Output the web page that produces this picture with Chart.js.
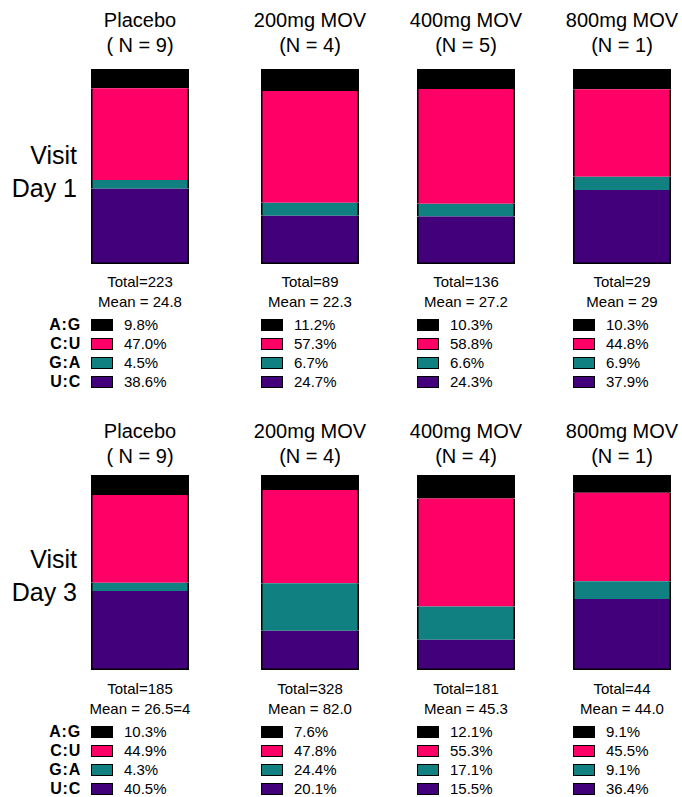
<!DOCTYPE html>
<html>
<head>
<meta charset="utf-8">
<script src="https://cdn.jsdelivr.net/npm/chart.js@4/dist/chart.umd.min.js"></script>
<style>
  html, body { margin: 0; padding: 0; background: #fff; }
  body { width: 682px; height: 797px; position: relative; overflow: hidden;
         font-family: "Liberation Sans", Arial, Helvetica, sans-serif; color: #000; }
  .abs { position: absolute; }
  .title { font-size: 20px; line-height: 25px; text-align: center; width: 180px; white-space: nowrap; }
  .visit { font-size: 25px; line-height: 32.5px; text-align: right; width: 90px; }
  .stats { font-size: 15px; line-height: 20px; text-align: center; width: 160px; white-space: nowrap; }
  .legrow { position: absolute; height: 19px; display: flex; align-items: center; }
  .swatch { width: 22px; height: 12px; box-sizing: border-box; border: 1.5px solid #000; }
  .pct { font-size: 15px; margin-left: 11px; white-space: nowrap; }
  .mtype { position: absolute; height: 19px; line-height: 19px; font-size: 16px; font-weight: bold;
           text-align: right; width: 70px; letter-spacing: 0.8px; }
  .barbox { position: absolute; }
</style>
</head>
<body>
<script>
// ---------- data ----------
const groups = ['Placebo', '200mg MOV', '400mg MOV', '800mg MOV'];
const nDay1 = ['( N = 9)', '(N = 4)', '(N = 5)', '(N = 1)'];
const nDay3 = ['( N = 9)', '(N = 4)', '(N = 4)', '(N = 1)'];
const visitLabels = ['Visit\nDay 1', 'Visit\nDay 3'];
const totalDay1 = ['223', '89', '136', '29'];
const meanDay1 = ['24.8', '22.3', '27.2', '29'];
const totalDay3 = ['185', '328', '181', '44'];
const meanDay3 = ['26.5=4', '82.0', '45.3', '44.0'];
const mutTypes = ['A:G', 'C:U', 'G:A', 'U:C'];
const mutColors = ['#000000', '#FF0066', '#108080', '#42007A'];
// percentages per mutation type, one entry per group
const agDay1 = [9.8, 11.2, 10.3, 10.3];
const cuDay1 = [47.0, 57.3, 58.8, 44.8];
const gaDay1 = [4.5, 6.7, 6.6, 6.9];
const ucDay1 = [38.6, 24.7, 24.3, 37.9];
const agDay3 = [10.3, 7.6, 12.1, 9.1];
const cuDay3 = [44.9, 47.8, 55.3, 45.5];
const gaDay3 = [4.3, 24.4, 17.1, 9.1];
const ucDay3 = [40.5, 20.1, 15.5, 36.4];

// ---------- layout ----------
const barLefts = [91, 261, 417, 573];
const barW = 98, barH = 195;
const rows = [
  { top: 69, titleTop: 7.6, visitTop: 139, statsTop: 271.8, legTop: 315,
    n: nDay1, total: totalDay1, mean: meanDay1, vals: [agDay1, cuDay1, gaDay1, ucDay1] },
  { top: 475, titleTop: 418.6, visitTop: 543, statsTop: 678.5, legTop: 722,
    n: nDay3, total: totalDay3, mean: meanDay3, vals: [agDay3, cuDay3, gaDay3, ucDay3] }
];

function el(cls, styles, html) {
  const d = document.createElement('div');
  d.className = cls;
  Object.assign(d.style, styles);
  if (html !== undefined) d.innerHTML = html;
  document.body.appendChild(d);
  return d;
}

rows.forEach((row, ri) => {
  el('abs visit', { left: '-13px', top: row.visitTop + 'px' }, visitLabels[ri].replace('\n', '<br>'));
  mutTypes.forEach((m, k) => {
    el('mtype', { left: '11px', top: (row.legTop + k * 19) + 'px' }, m);
  });
  groups.forEach((g, gi) => {
    const cx = barLefts[gi] + barW / 2;
    el('abs title', { left: (cx - 90) + 'px', top: row.titleTop + 'px' }, g + '<br>' + row.n[gi]);
    el('abs stats', { left: (cx - 80) + 'px', top: row.statsTop + 'px' },
       'Total=' + row.total[gi] + '<br>Mean = ' + row.mean[gi]);
    mutTypes.forEach((m, k) => {
      const r = el('legrow', { left: barLefts[gi] + 'px', top: (row.legTop + k * 19) + 'px' });
      const sw = document.createElement('div');
      sw.className = 'swatch';
      sw.style.background = mutColors[k];
      r.appendChild(sw);
      const t = document.createElement('span');
      t.className = 'pct';
      t.textContent = row.vals[k][gi].toFixed(1) + '%';
      r.appendChild(t);
    });
    const box = el('barbox', { left: barLefts[gi] + 'px', top: row.top + 'px',
                               width: barW + 'px', height: barH + 'px' });
    const cv = document.createElement('canvas');
    box.appendChild(cv);
    // bottom to top: U:C, G:A, C:U, A:G
    const order = [3, 2, 1, 0];
    const sum = order.reduce((s, k) => s + row.vals[k][gi], 0);
    new Chart(cv, {
      type: 'bar',
      data: {
        labels: [g],
        datasets: order.map(k => ({
          label: mutTypes[k],
          data: [row.vals[k][gi]],
          backgroundColor: mutColors[k],
          borderColor: '#000000',
          borderWidth: 2,
          borderSkipped: 'middle',
          inflateAmount: 0.5,
          barPercentage: 1,
          categoryPercentage: 1
        }))
      },
      options: {
        responsive: true,
        maintainAspectRatio: false,
        animation: false,
        devicePixelRatio: 1,
        layout: { padding: 0 },
        plugins: { legend: { display: false }, tooltip: { enabled: false } },
        scales: {
          x: { stacked: true, display: false },
          y: { stacked: true, display: false, min: 0, max: Math.max(100, sum) }
        }
      }
    });
  });
});
</script>
</body>
</html>
